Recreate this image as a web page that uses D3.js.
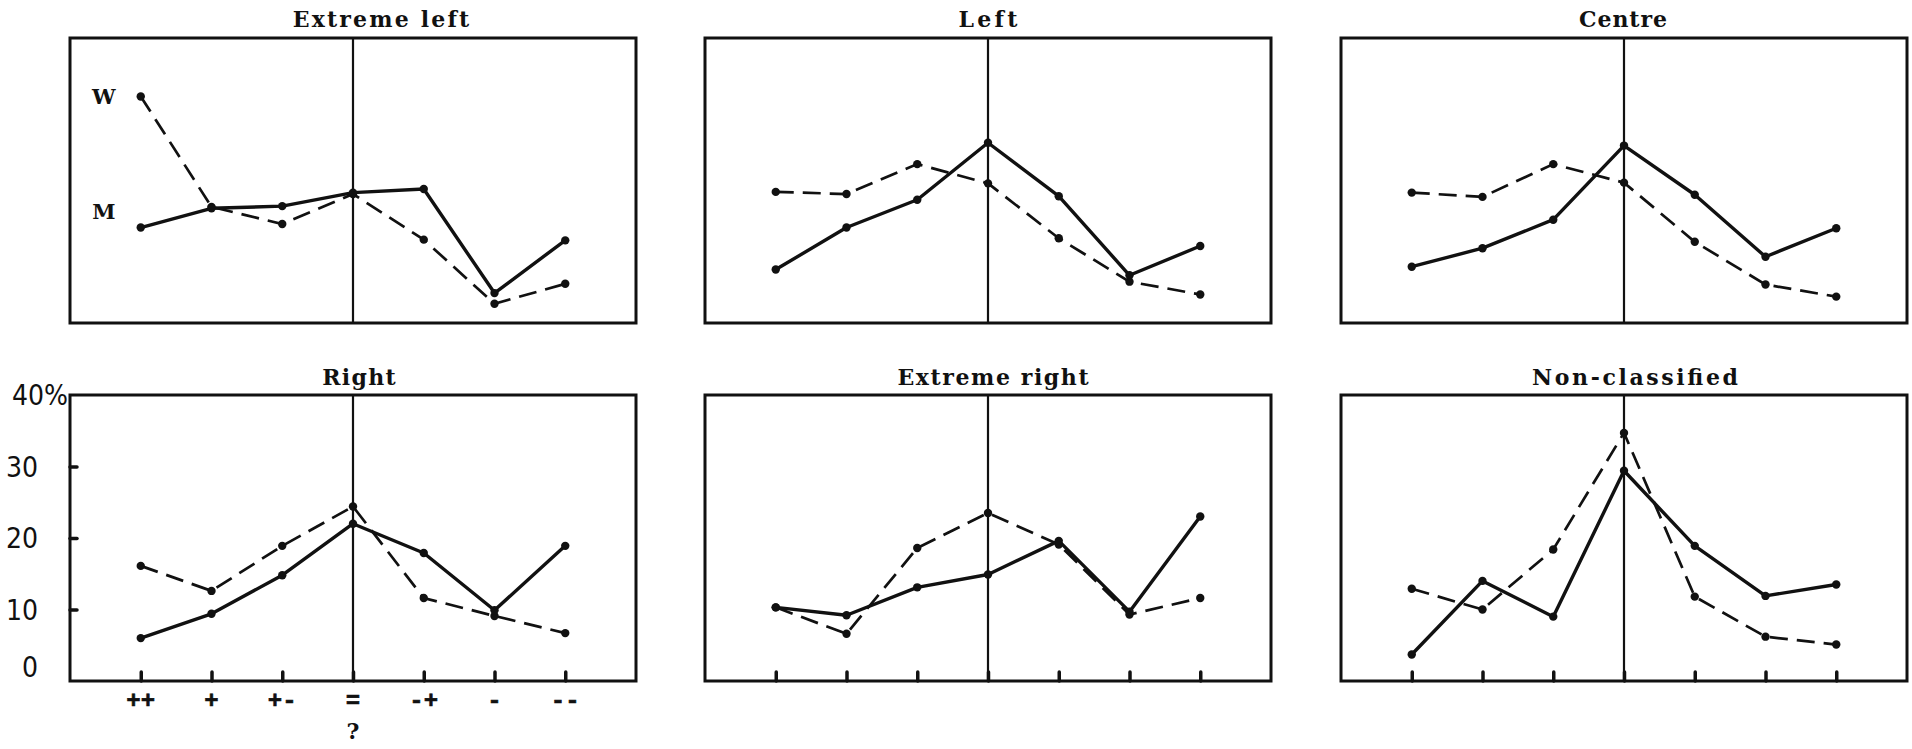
<!DOCTYPE html>
<html><head><meta charset="utf-8">
<script src="https://cdn.jsdelivr.net/npm/d3@7"></script>
<style>
html,body{margin:0;padding:0;background:#fff;}
svg{display:block;}
</style></head><body>
<svg id="chart" width="1912" height="749"></svg>
<script>
// Attitude scale on the horizontal axis
const categories = ["++", "+", "+-", "=", "-+", "-", "--"];
const categorySubLabels = ["", "", "", "?", "", "", ""];
const yTicks = [0, 10, 20, 30, 40];
const seriesNames = ["M", "W"];
const panelTitles = ["Extreme left", "Left", "Centre", "Right", "Extreme right", "Non-classified"];

// Percentages per political group: M = men (solid), W = women (dashed)
const menExtremeLeft    = [13.4, 16.1, 16.4, 18.3, 18.8, 4.2, 11.6];
const womenExtremeLeft  = [31.8, 16.3, 13.9, 18.1, 11.7, 2.7, 5.5];
const menLeft           = [7.5, 13.4, 17.3, 25.3, 17.8, 6.7, 10.8];
const womenLeft         = [18.4, 18.1, 22.3, 19.6, 11.9, 5.8, 4.0];
const menCentre         = [7.9, 10.5, 14.5, 24.9, 18.0, 9.3, 13.3];
const womenCentre       = [18.3, 17.7, 22.3, 19.7, 11.4, 5.4, 3.7];
const menRight          = [6.0, 9.4, 14.8, 22.0, 17.9, 9.9, 18.9];
const womenRight        = [16.1, 12.6, 18.9, 24.4, 11.6, 9.1, 6.7];
const menExtremeRight   = [10.3, 9.2, 13.1, 14.9, 19.6, 9.7, 23.0];
const womenExtremeRight = [10.3, 6.6, 18.6, 23.5, 19.1, 9.3, 11.6];
const menNonClassified  = [3.7, 14.0, 9.0, 29.4, 18.9, 11.9, 13.5];
const womenNonClassified= [12.9, 10.0, 18.4, 34.7, 11.8, 6.2, 5.1];

const panels = panelTitles.map((title, i) => ({
  title,
  men: [menExtremeLeft, menLeft, menCentre, menRight, menExtremeRight, menNonClassified][i],
  women: [womenExtremeLeft, womenLeft, womenCentre, womenRight, womenExtremeRight, womenNonClassified][i]
}));

// Grid geometry
const cols = [{x0: 70, x1: 636}, {x0: 705, x1: 1271}, {x0: 1341, x1: 1907}];
const rows = [{y0: 38, y1: 323, titleY: 27}, {y0: 395, y1: 681, titleY: 385}];
const titleShift = [28, 0, -1, 6, 5, 11];
const TITLE_CHAR_W = 14.7;

const INK = "#111";
const svg = d3.select("#chart");
svg.append("rect").attr("width", 1912).attr("height", 749).attr("fill", "#fff");

const slab = "'DejaVu Serif', 'Liberation Serif', serif";
const mono = "'Liberation Mono', 'DejaVu Sans Mono', monospace";
const narrow = "'Liberation Sans Narrow', 'DejaVu Sans Condensed', 'Liberation Sans', sans-serif";

panels.forEach((p, i) => {
  const r = Math.floor(i / 3), c = i % 3;
  const {x0, x1} = cols[c];
  const {y0, y1, titleY} = rows[r];

  const x = d3.scalePoint().domain(categories).range([x0, x1]).padding(1);
  const y = d3.scaleLinear().domain([0, 40]).range([y1, y0]);
  const g = svg.append("g");
  const xMid = x("=");

  // title, typewriter-spaced
  g.append("text")
    .attr("x", xMid + titleShift[i]).attr("y", titleY)
    .attr("text-anchor", "middle")
    .attr("font-family", slab).attr("font-weight", "bold")
    .attr("font-size", 22).attr("fill", INK)
    .attr("textLength", p.title.length * TITLE_CHAR_W)
    .attr("lengthAdjust", "spacing")
    .text(p.title);

  // tick nubs along the bottom (lower row)
  if (r === 1) {
    const ax = d3.axisBottom(x).tickSize(-9).tickFormat("");
    const axG = g.append("g").attr("transform", `translate(0,${y1})`).call(ax);
    axG.select(".domain").remove();
    axG.selectAll(".tick line").attr("stroke", INK).attr("stroke-width", 3.5).attr("stroke-linecap", "round");
  }

  // frame
  g.append("rect")
    .attr("x", x0).attr("y", y0).attr("width", x1 - x0).attr("height", y1 - y0)
    .attr("fill", "none").attr("stroke", INK).attr("stroke-width", 3);

  // divider at the neutral category
  g.append("line")
    .attr("x1", xMid).attr("x2", xMid).attr("y1", y0).attr("y2", y1)
    .attr("stroke", INK).attr("stroke-width", 2.2);

  // percentage axis on the first lower panel
  if (i === 3) {
    const ay = d3.axisLeft(y).tickValues(yTicks).tickSize(-7).tickPadding(32)
      .tickFormat(d => d === 40 ? "40%" : d);
    const ayG = g.append("g").attr("transform", `translate(${x0},0)`).call(ay);
    ayG.select(".domain").remove();
    ayG.selectAll(".tick line")
      .attr("stroke", INK).attr("stroke-width", 3.5).attr("stroke-linecap", "round")
      .attr("display", d => (d === 0 || d === 40) ? "none" : null);
    ayG.selectAll(".tick text")
      .attr("font-family", narrow).attr("font-size", 28).attr("fill", INK)
      .attr("dy", d => d === 0 ? "-0.15em" : "0.34em");
    ayG.selectAll(".tick text").filter(d => d === 40)
      .attr("text-anchor", "start").attr("x", 12 - x0);

    // category labels
    const lab = g.append("g");
    lab.selectAll("text.cat").data(categories).join("text")
      .attr("class", "cat")
      .attr("x", d => x(d)).attr("y", 708)
      .attr("text-anchor", "middle")
      .attr("font-family", mono).attr("font-weight", "bold")
      .attr("font-size", 24).attr("fill", INK)
      .attr("stroke", INK).attr("stroke-width", 0.6)
      .text(d => d);
    lab.selectAll("text.sub").data(categories.filter((d, k) => categorySubLabels[k]))
      .join("text")
      .attr("class", "sub")
      .attr("x", d => x(d)).attr("y", 739)
      .attr("text-anchor", "middle")
      .attr("font-family", slab).attr("font-weight", "bold")
      .attr("font-size", 22).attr("fill", INK)
      .text(d => categorySubLabels[categories.indexOf(d)]);
  }

  const line = d3.line().x((d, k) => x(categories[k])).y(d => y(d));

  // women: dashed
  g.append("path").datum(p.women)
    .attr("d", line).attr("fill", "none")
    .attr("stroke", INK).attr("stroke-width", 2.7)
    .attr("stroke-dasharray", "18,9");
  // men: solid
  g.append("path").datum(p.men)
    .attr("d", line).attr("fill", "none")
    .attr("stroke", INK).attr("stroke-width", 3.4)
    .attr("stroke-linejoin", "round");

  [p.women, p.men].forEach(vals => {
    g.selectAll(null).data(vals).join("circle")
      .attr("cx", (d, k) => x(categories[k])).attr("cy", d => y(d))
      .attr("r", 4.2).attr("fill", INK);
  });

  // series key on the first panel
  if (i === 0) {
    const keyX = x(categories[0]) - 37;
    [[seriesNames[1], y(p.women[0])], [seriesNames[0], y(p.men[0]) - 16]].forEach(([name, ky]) => {
      g.append("text").attr("x", keyX).attr("y", ky)
        .attr("dy", "0.35em").attr("text-anchor", "middle")
        .attr("font-family", slab).attr("font-weight", "bold")
        .attr("font-size", 21).attr("fill", INK)
        .text(name);
    });
  }
});
</script>
</body></html>
